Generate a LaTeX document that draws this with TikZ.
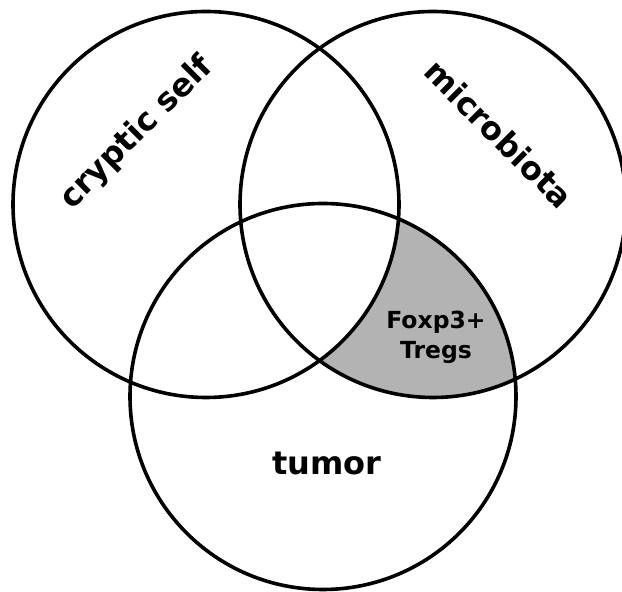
\documentclass[tikz,border=0pt]{standalone}
\usepackage{fontspec}
\setmainfont{DejaVu Sans}
\definecolor{VennBlack}{HTML}{000000}
\definecolor{VennGray}{HTML}{B3B3B3}
\tikzset{
    % Set circle style
    vennset/.style={
        circle,
        draw=VennBlack,
        line width=1.8pt,
        minimum size=193pt,
        inner sep=0pt,
        outer sep=0pt
    },
    % Set label style
    setlabel/.style={
        inner sep=0pt,
        font=\fontsize{16}{19}\selectfont\bfseries
    },
    % Overlap label style
    overlaplabel/.style={
        inner sep=0pt,
        align=center,
        font=\fontsize{11.75}{15}\selectfont\bfseries
    }
}

\begin{document}
\begin{tikzpicture}[x=0.5pt, y=-0.5pt]
        \useasboundingbox (0,0) rectangle (622,592);

        % Set centres
        \coordinate (cself) at (206,204.5);
        \coordinate (cmicro) at (433,204.5);
        \coordinate (ctumor) at (323,396.5);

        % Shaded overlap: microbiota and tumor, outside cryptic self
        \begin{scope}
            \clip (cmicro) circle [radius=193];
            \clip (ctumor) circle [radius=193];
            \fill [VennGray, even odd rule] (0,0) rectangle (622,592) (cself) circle [radius=193];
        \end{scope}

        % Circles
        \node (self) [vennset] at (cself) {};
        \node (micro) [vennset] at (cmicro) {};
        \node (tumor) [vennset] at (ctumor) {};

        % Labels
        \node (selflabel) [setlabel, rotate=45] at (137,133) {cryptic self};
        \node (microlabel) [setlabel, rotate=-45] at (499,134) {microbiota};
        \node (tumorlabel) [setlabel] at (327,463.5) {tumor};
        \node (treglabel) [overlaplabel] at (436,337) {Foxp3+\\Tregs};
\end{tikzpicture}
\end{document}
